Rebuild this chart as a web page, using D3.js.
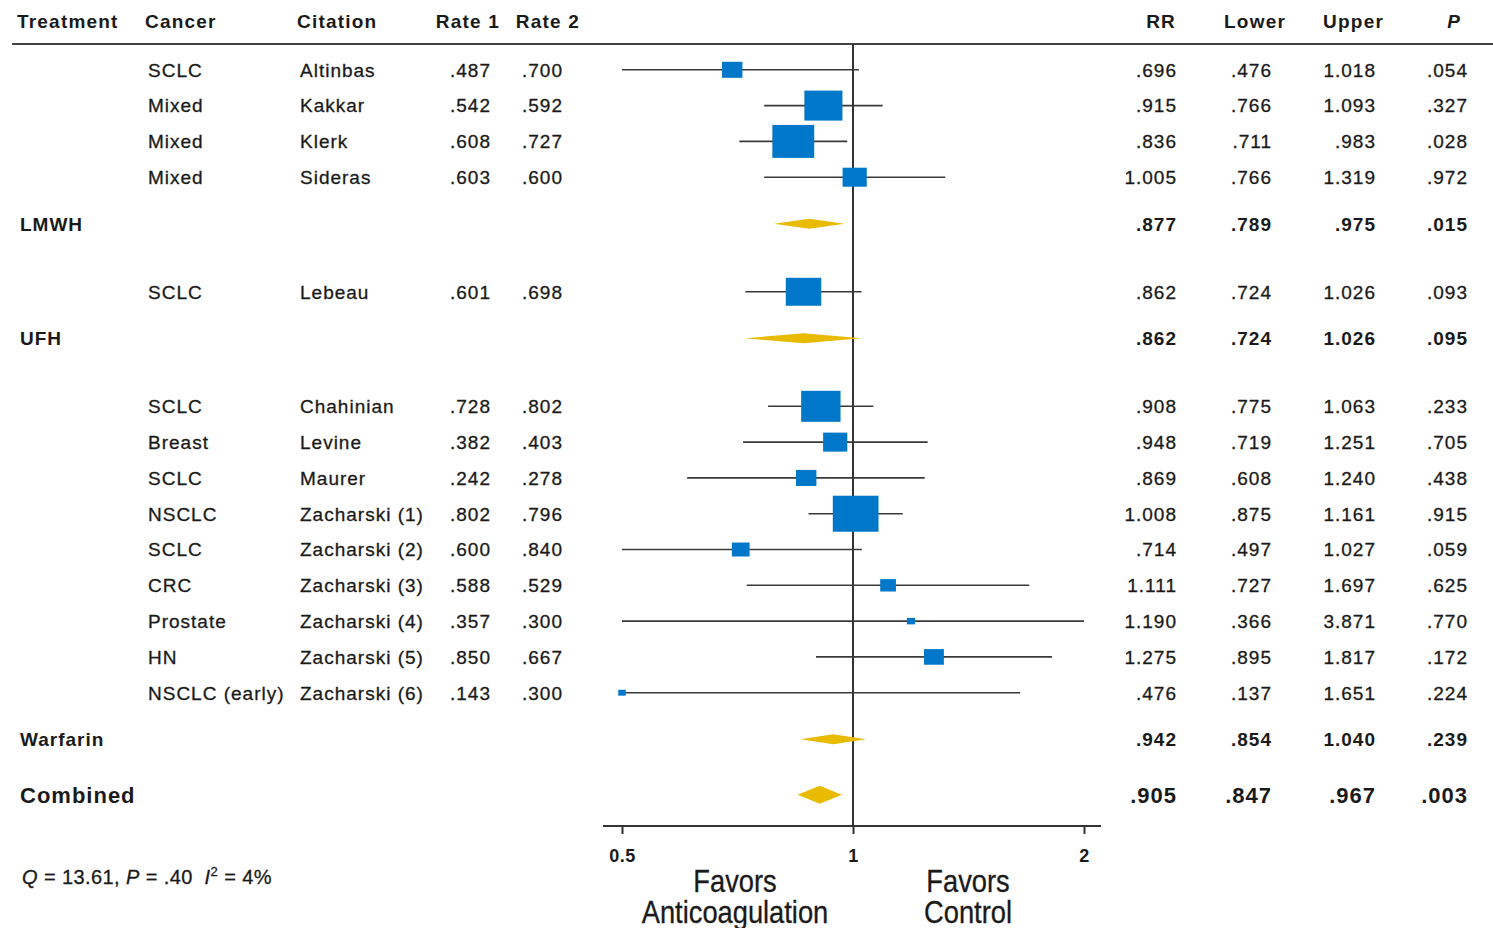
<!DOCTYPE html>
<html>
<head>
<meta charset="utf-8">
<script src="https://cdn.jsdelivr.net/npm/d3@7"></script>
<style>
  html, body { margin: 0; padding: 0; background: #fff; }
  svg { display: block; }
  text { font-family: "Liberation Sans", Arial, sans-serif; fill: #1a1a1a; }
  .body-text text { stroke: #1a1a1a; stroke-width: 0.3; }
  .note { white-space: pre; }
</style>
</head>
<body>
<svg id="chart" width="1493" height="928"></svg>
<script>
// ---- Study-level data ----
const studyGroup = ["LMWH", "LMWH", "LMWH", "LMWH", "UFH",
  "Warfarin", "Warfarin", "Warfarin", "Warfarin", "Warfarin", "Warfarin", "Warfarin", "Warfarin", "Warfarin"];
const cancer = ["SCLC", "Mixed", "Mixed", "Mixed", "SCLC",
  "SCLC", "Breast", "SCLC", "NSCLC", "SCLC", "CRC", "Prostate", "HN", "NSCLC (early)"];
const citation = ["Altinbas", "Kakkar", "Klerk", "Sideras", "Lebeau",
  "Chahinian", "Levine", "Maurer", "Zacharski (1)", "Zacharski (2)", "Zacharski (3)", "Zacharski (4)", "Zacharski (5)", "Zacharski (6)"];
const rate1 = [".487", ".542", ".608", ".603", ".601", ".728", ".382", ".242", ".802", ".600", ".588", ".357", ".850", ".143"];
const rate2 = [".700", ".592", ".727", ".600", ".698", ".802", ".403", ".278", ".796", ".840", ".529", ".300", ".667", ".300"];
const rr    = [0.696, 0.915, 0.836, 1.005, 0.862, 0.908, 0.948, 0.869, 1.008, 0.714, 1.111, 1.190, 1.275, 0.476];
const lower = [0.476, 0.766, 0.711, 0.766, 0.724, 0.775, 0.719, 0.608, 0.875, 0.497, 0.727, 0.366, 0.895, 0.137];
const upper = [1.018, 1.093, 0.983, 1.319, 1.026, 1.063, 1.251, 1.240, 1.161, 1.027, 1.697, 3.871, 1.817, 1.651];
const pval  = [".054", ".327", ".028", ".972", ".093", ".233", ".705", ".438", ".915", ".059", ".625", ".770", ".172", ".224"];
// relative study weight (%)
const weight = [3.7, 12.9, 15.6, 5.2, 11.2, 13.8, 5.2, 3.7, 18.6, 2.8, 2.2, 0.6, 3.5, 0.5];

// ---- Pooled estimates ----
const summaryLabel = ["LMWH", "UFH", "Warfarin", "Combined"];
const summaryRR    = [0.877, 0.862, 0.942, 0.905];
const summaryLower = [0.789, 0.724, 0.854, 0.847];
const summaryUpper = [0.975, 1.026, 1.040, 0.967];
const summaryP     = [".015", ".095", ".239", ".003"];

const axisTicks = [0.5, 1, 2];
const heterogeneity = { Q: "13.61", P: ".40", I2: "4%" };

// ---- Layout ----
const fmt3 = v => {
  const s = v.toFixed(3);
  return s.startsWith("0") ? s.slice(1) : s;
};

const svg = d3.select("#chart");
const ink = "#1a1a1a";
const blue = "#0077C8";
const gold = "#E8BA00";

// Row positions in row units: studies one unit apart, summaries set off by gaps
const rows = [];
let pos = 0;
["LMWH", "UFH", "Warfarin"].forEach((g, gi) => {
  if (gi > 0) pos += 1.9;
  studyGroup.forEach((sg, i) => {
    if (sg === g) { rows.push({ kind: "study", i, pos }); pos += 1; }
  });
  pos += 0.3;
  rows.push({ kind: "summary", i: gi, pos });
});
pos += 1.55;
rows.push({ kind: "combined", i: 3, pos });

const y = d3.scaleLinear().domain([0, 1]).range([69.8, 105.6]);
const x = d3.scaleLog().domain([0.5, 2]).range([622, 1084]);
const clampX = v => x(Math.max(0.5, Math.min(2, v)));

const boxH = d3.scaleSqrt().domain([0, d3.max(weight)]).range([0, 36]);
const boxAspect = 1.27;

// ---- Header ----
const header = svg.append("g").attr("font-weight", "bold").attr("font-size", 19)
  .attr("letter-spacing", 1.2);
const headCols = [
  { t: "Treatment", x: 17, a: "start" },
  { t: "Cancer", x: 145, a: "start" },
  { t: "Citation", x: 297, a: "start" },
  { t: "Rate 1", x: 500, a: "end" },
  { t: "Rate 2", x: 580, a: "end" },
  { t: "RR", x: 1176, a: "end" },
  { t: "Lower", x: 1286, a: "end" },
  { t: "Upper", x: 1384, a: "end" },
];
header.selectAll("text.h").data(headCols).join("text")
  .attr("x", d => d.x).attr("y", 28).attr("text-anchor", d => d.a).text(d => d.t);
header.append("text").attr("x", 1461).attr("y", 28).attr("text-anchor", "end")
  .attr("font-style", "italic").text("P");

svg.append("line").attr("x1", 12).attr("x2", 1493).attr("y1", 44).attr("y2", 44)
  .attr("stroke", "#444").attr("stroke-width", 2);

// ---- Vertical line of no effect & axis ----
const axisY = 826;
svg.append("line").attr("x1", x(1)).attr("x2", x(1)).attr("y1", 44).attr("y2", axisY)
  .attr("stroke", "#333").attr("stroke-width", 2);

const axisG = svg.append("g").attr("transform", `translate(0,${axisY})`)
  .call(d3.axisBottom(x).tickValues(axisTicks).tickFormat(d3.format("")).tickSize(8).tickPadding(15));
axisG.select(".domain").remove();
axisG.append("line").attr("x1", 603).attr("x2", 1101).attr("stroke", "#333").attr("stroke-width", 2);
axisG.selectAll(".tick line").attr("stroke", "#333").attr("stroke-width", 2);
axisG.selectAll(".tick text").attr("font-family", "Liberation Sans, Arial, sans-serif")
  .attr("font-size", 18).attr("font-weight", "bold").attr("letter-spacing", 0.5).attr("fill", ink);

// ---- Studies ----
const studyRows = rows.filter(r => r.kind === "study");
const body = svg.append("g").attr("class", "body-text").attr("font-size", 19).attr("letter-spacing", 1);

const rowG = body.selectAll("g.study").data(studyRows).join("g")
  .attr("class", "study")
  .attr("transform", d => `translate(0,${y(d.pos)})`);

rowG.append("text").attr("x", 148).attr("dy", "0.36em").text(d => cancer[d.i]);
rowG.append("text").attr("x", 300).attr("dy", "0.36em").text(d => citation[d.i]);
rowG.append("text").attr("x", 491).attr("dy", "0.36em").attr("text-anchor", "end").text(d => rate1[d.i]);
rowG.append("text").attr("x", 563).attr("dy", "0.36em").attr("text-anchor", "end").text(d => rate2[d.i]);
rowG.append("text").attr("x", 1177).attr("dy", "0.36em").attr("text-anchor", "end").text(d => fmt3(rr[d.i]));
rowG.append("text").attr("x", 1272).attr("dy", "0.36em").attr("text-anchor", "end").text(d => fmt3(lower[d.i]));
rowG.append("text").attr("x", 1376).attr("dy", "0.36em").attr("text-anchor", "end").text(d => fmt3(upper[d.i]));
rowG.append("text").attr("x", 1468).attr("dy", "0.36em").attr("text-anchor", "end").text(d => pval[d.i]);

// confidence intervals
rowG.append("line")
  .attr("x1", d => clampX(lower[d.i])).attr("x2", d => clampX(upper[d.i]))
  .attr("stroke", "#3a3a3a").attr("stroke-width", 1.6);

// weighted boxes
rowG.append("rect")
  .attr("x", d => clampX(rr[d.i]) - boxH(weight[d.i]) * boxAspect / 2)
  .attr("y", d => -boxH(weight[d.i]) / 2)
  .attr("width", d => boxH(weight[d.i]) * boxAspect)
  .attr("height", d => boxH(weight[d.i]))
  .attr("fill", blue);

// ---- Pooled rows ----
const sumRows = rows.filter(r => r.kind !== "study");
const sumG = svg.selectAll("g.summary").data(sumRows).join("g")
  .attr("class", "summary")
  .attr("transform", d => `translate(0,${y(d.pos)})`)
  .attr("font-weight", "bold")
  .attr("font-size", d => d.kind === "combined" ? 22 : 19)
  .attr("letter-spacing", 1);

sumG.append("text").attr("x", 20).attr("dy", "0.36em").text(d => summaryLabel[d.i]);
sumG.append("text").attr("x", 1177).attr("dy", "0.36em").attr("text-anchor", "end").text(d => fmt3(summaryRR[d.i]));
sumG.append("text").attr("x", 1272).attr("dy", "0.36em").attr("text-anchor", "end").text(d => fmt3(summaryLower[d.i]));
sumG.append("text").attr("x", 1376).attr("dy", "0.36em").attr("text-anchor", "end").text(d => fmt3(summaryUpper[d.i]));
sumG.append("text").attr("x", 1468).attr("dy", "0.36em").attr("text-anchor", "end").text(d => summaryP[d.i]);

sumG.append("path")
  .attr("d", d => {
    const h = d.kind === "combined" ? 9 : 5;
    const lo = x(summaryLower[d.i]), hi = x(summaryUpper[d.i]), c = x(summaryRR[d.i]);
    return `M${lo},0L${c},${-h}L${hi},0L${c},${h}Z`;
  })
  .attr("fill", gold);

// ---- Heterogeneity note ----
const note = svg.append("g").attr("class", "body-text")
  .append("text").attr("class", "note").attr("x", 22).attr("y", 884)
  .attr("font-size", 20).attr("letter-spacing", 0.4);
note.append("tspan").attr("font-style", "italic").text("Q");
note.append("tspan").text(` = ${heterogeneity.Q}, `);
note.append("tspan").attr("font-style", "italic").text("P");
note.append("tspan").text(` = ${heterogeneity.P}  `);
note.append("tspan").attr("font-style", "italic").text("I");
note.append("tspan").attr("font-size", 13).attr("dy", -8).text("2");
note.append("tspan").attr("dy", 8).text(` = ${heterogeneity.I2}`);

// ---- Direction labels (condensed) ----
const dirLabels = [
  { lines: ["Favors", "Anticoagulation"], cx: 735 },
  { lines: ["Favors", "Control"], cx: 968 },
];
const dirG = svg.selectAll("g.dir").data(dirLabels).join("g")
  .attr("class", "dir")
  .attr("transform", d => `translate(${d.cx},0) scale(0.88,1)`);
dirG.selectAll("text").data(d => d.lines).join("text")
  .attr("x", 0)
  .attr("y", (d, i) => 892 + i * 31)
  .attr("text-anchor", "middle")
  .attr("font-size", 31)
  .attr("stroke", ink).attr("stroke-width", 0.3)
  .text(d => d);
</script>
</body>
</html>
